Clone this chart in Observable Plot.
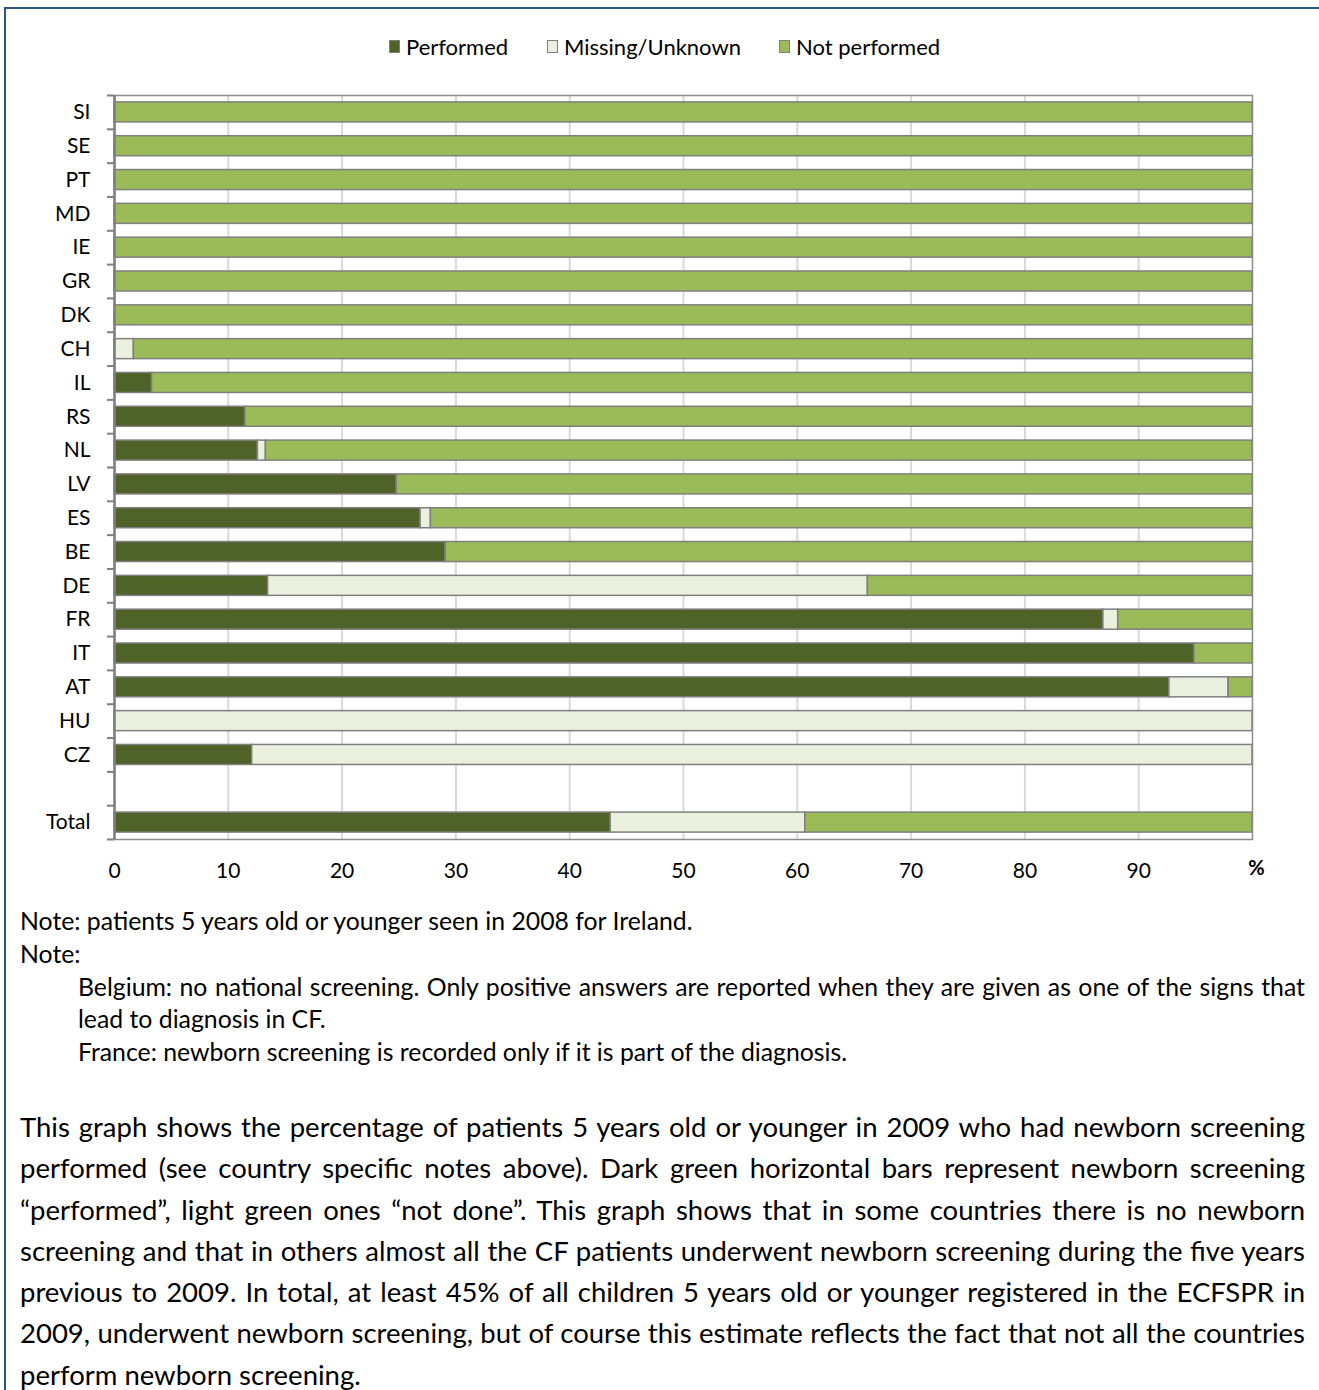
<!DOCTYPE html>
<html><head><meta charset="utf-8">
<script src="https://cdn.jsdelivr.net/npm/d3@7"></script>
<script src="https://cdn.jsdelivr.net/npm/@observablehq/plot@0.6"></script>
<style>
body{margin:0;background:#fff;font-family:Lato,"Open Sans",sans-serif;color:#000;}
#page{position:relative;width:1319px;height:1390px;overflow:hidden;background:#fff;}
#border{position:absolute;left:4px;top:7px;width:1330px;height:1400px;border-left:2px solid #2B5585;border-top:2px solid #2B5585;z-index:10;pointer-events:none;}
#chart{position:absolute;left:0;top:70px;}
.leg{position:absolute;top:35px;height:22px;display:flex;align-items:center;font-size:22px;white-space:nowrap;}
.sw{width:11px;height:13px;border:1.5px solid #7f7f7f;margin-right:6px;box-sizing:border-box;}
#notes{position:absolute;left:20px;top:905px;width:1285px;font-size:24.8px;line-height:32.75px;}
#notes .ind{padding-left:58px;}
#para{position:absolute;left:20px;top:1106px;width:1285px;font-size:27.5px;line-height:41.3px;}
.just{text-align:justify;text-align-last:justify;}
</style></head>
<body><div id="page">
<div id="border"></div>
<div id="legend"></div>
<div id="chart"></div>
<div id="notes">
<div>Note: patients 5 years old or younger seen in 2008 for Ireland.</div>
<div>Note:</div>
<div class="ind just">Belgium: no national screening. Only positive answers are reported when they are given as one of the signs that</div>
<div class="ind">lead to diagnosis in CF.</div>
<div class="ind">France: newborn screening is recorded only if it is part of the diagnosis.</div>
</div>
<div id="para">
<div class="just">This graph shows the percentage of patients 5 years old or younger in 2009 who had newborn screening</div>
<div class="just">performed (see country specific notes above). Dark green horizontal bars represent newborn screening</div>
<div class="just">“performed”, light green ones “not done”. This graph shows that in some countries there is no newborn</div>
<div class="just">screening and that in others almost all the CF patients underwent newborn screening during the five years</div>
<div class="just">previous to 2009. In total, at least 45% of all children 5 years old or younger registered in the ECFSPR in</div>
<div class="just">2009, underwent newborn screening, but of course this estimate reflects the fact that not all the countries</div>
<div>perform newborn screening.</div>
</div>
</div>
<script>
// ---- data ----
const categories = ["SI","SE","PT","MD","IE","GR","DK","CH","IL","RS","NL","LV","ES","BE","DE","FR","IT","AT","HU","CZ"];
const totalLabel = "Total";
const series = ["Performed","Missing/Unknown","Not performed"];
const seriesColors = ["#4F6228","#EBF1DE","#9BBB59"];
const performed    = [0,0,0,0,0,0,0,0,3.3,11.5,12.6,24.8,26.9,29.1,13.5,86.9,94.9,92.7,0,12.1];
const missing      = [0,0,0,0,0,0,0,1.7,0,0,0.7,0,0.9,0,52.7,1.3,0,5.2,100,87.9];
const notPerformed = [100,100,100,100,100,100,100,98.3,96.7,88.5,86.7,75.2,72.2,70.9,33.8,11.8,5.1,2.1,0,0];
const totalValues  = [43.6,17.1,39.3];
const xTicks = [0,10,20,30,40,50,60,70,80,90];

// ---- table ----
const rows = [];
categories.forEach((c,i)=>{
  [performed[i],missing[i],notPerformed[i]].forEach((v,j)=>{ if(v>0) rows.push({cat:c,series:series[j],value:v}); });
});
totalValues.forEach((v,j)=>{ if(v>0) rows.push({cat:totalLabel,series:series[j],value:v}); });
const gapLabel = " ";
const yDomain = [...categories, gapLabel, totalLabel];

// ---- legend ----
const legendX = [389,547,779];
const legend = document.getElementById("legend");
series.forEach((s,j)=>{
  const d = document.createElement("div");
  d.className = "leg"; d.style.left = legendX[j] + "px";
  d.innerHTML = `<div class="sw" style="background:${seriesColors[j]}"></div><span>${s}</span>`;
  legend.appendChild(d);
});

// ---- chart ----
const W = 1319, H = 820, mt = 25, mb = 51, ml = 114, mr = 67;
const step = (H - mt - mb) / yDomain.length;
const barInset = (step - 20) / 2;
const chart = Plot.plot({
  width: W, height: H, marginTop: mt, marginBottom: mb, marginLeft: ml, marginRight: mr,
  style: {fontFamily: "Lato, 'Open Sans', sans-serif", fontSize: "21px", color: "#000", background: "transparent"},
  x: {domain: [0,100], ticks: xTicks, tickSize: 0, tickPadding: 24, label: null},
  y: {domain: yDomain, padding: 0, round: false, tickSize: 0, tickPadding: 24, label: null},
  color: {domain: series, range: seriesColors},
  marks: [
    Plot.gridX(xTicks.filter(t=>t>0), {stroke: "#d9d9d9", strokeOpacity: 1, strokeWidth: 2}),
    Plot.barX(rows, Plot.stackX({x: "value", y: "cat", z: "series", fill: "series", order: series, insetTop: barInset, insetBottom: barInset, stroke: "#7f7f7f", strokeWidth: 1.5})),
    Plot.frame({stroke: "#8c8c8c", strokeWidth: 1.5}),
    Plot.ruleX([0], {stroke: "#7f7f7f", strokeWidth: 2.5}),
    Plot.ruleY(yDomain, {y: d=>d, x1: 0, x2: 0, insetLeft: -7, dy: -step/2, stroke: "#7f7f7f", strokeWidth: 2}),
    Plot.ruleY([totalLabel], {y: d=>d, x1: 0, x2: 0, insetLeft: -7, dy: step/2, stroke: "#7f7f7f", strokeWidth: 2}),
    Plot.text(["%"], {frameAnchor: "bottom-right", dx: 4, dy: 35, fontWeight: "bold", fontSize: 20, textAnchor: "middle"})
  ]
});
document.getElementById("chart").appendChild(chart);
</script>
</body></html>
